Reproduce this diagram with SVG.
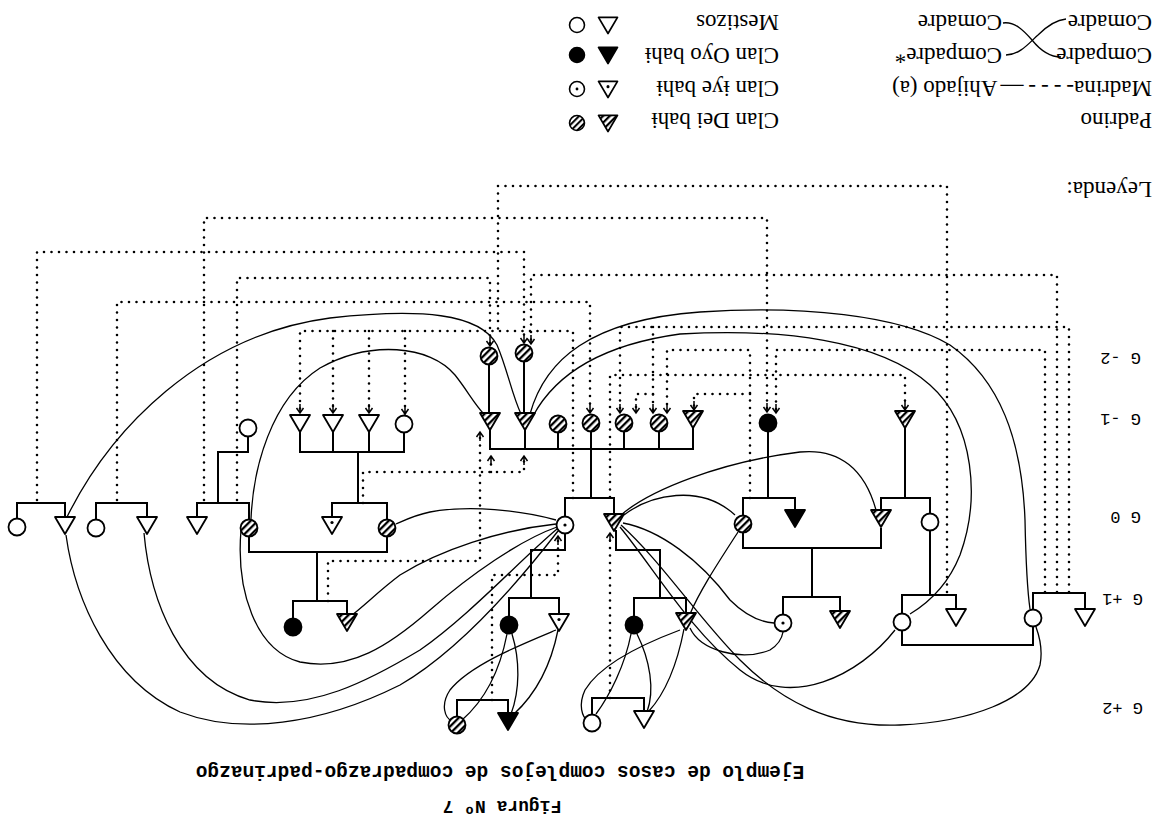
<svg xmlns="http://www.w3.org/2000/svg" xmlns:xlink="http://www.w3.org/1999/xlink" width="1161" height="823" viewBox="0 0 1161 823">
<style>
.g{fill:none;stroke:#000;stroke-width:2;stroke-linejoin:miter}
.cv{fill:none;stroke:#000;stroke-width:1.3}
.dt{fill:none;stroke:#000;stroke-width:2.6;stroke-dasharray:0 7.5;stroke-linecap:round}
.ar{marker-end:url(#arr)}
.lg{font-family:"Liberation Serif","DejaVu Serif",serif;font-size:23px;fill:#000}
.gl{font-family:"Liberation Mono","DejaVu Sans Mono",monospace;font-size:17px;fill:#000}
.tt{font-family:"Liberation Mono","DejaVu Sans Mono",monospace;font-size:19.5px;font-weight:bold;fill:#000}
.fg{font-family:"Liberation Mono","DejaVu Sans Mono",monospace;font-size:18px;font-weight:bold;fill:#000}
</style>
<defs>
<pattern id="hatch" patternUnits="userSpaceOnUse" width="5" height="5" patternTransform="rotate(45)">
<rect width="5" height="5" fill="#fff"/><rect width="2.3" height="5" fill="#000"/>
</pattern>
<marker id="arr" markerUnits="userSpaceOnUse" viewBox="-10 -5 12 10" markerWidth="12" markerHeight="10" refX="0" refY="0" orient="auto">
<path d="M-9 0H0M-5 -3.5L0 0L-5 3.5" fill="none" stroke="#000" stroke-width="1.5"/>
</marker>
<g id="co"><circle r="8.5" fill="#fff" stroke="#000" stroke-width="1.8"/></g>
<g id="cb"><circle r="8.5" fill="#000" stroke="#000" stroke-width="1.8"/></g>
<g id="cd"><circle r="8.5" fill="#fff" stroke="#000" stroke-width="1.8"/><circle r="1.6" fill="#000"/></g>
<g id="ch"><circle r="8.5" fill="url(#hatch)" stroke="#000" stroke-width="1.8"/></g>
<g id="to"><path d="M-10 -8H10L0 9Z" fill="#fff" stroke="#000" stroke-width="1.8" stroke-linejoin="round"/></g>
<g id="tb"><path d="M-10 -8H10L0 9Z" fill="#000" stroke="#000" stroke-width="1.8" stroke-linejoin="round"/></g>
<g id="td"><path d="M-10 -8H10L0 9Z" fill="#fff" stroke="#000" stroke-width="1.8" stroke-linejoin="round"/><circle cy="-2.5" r="1.6" fill="#000"/></g>
<g id="th"><path d="M-10 -8H10L0 9Z" fill="url(#hatch)" stroke="#000" stroke-width="1.8" stroke-linejoin="round"/></g>
</defs>
<rect width="1161" height="823" fill="#fff"/>

<g id="connectors">
<!-- dotted relations -->
<path class="dt" d="M947 592V186H498V331"/>
<path class="dt ar" d="M204 500V218H767V412"/>
<path class="dt ar" d="M37 500V252H524V343"/>
<path class="dt ar" d="M237 500V278H490V346"/>
<path class="dt ar" d="M117 500V302H590V413"/>
<path class="dt ar" d="M573 498V331H300V413"/>
<path class="dt ar" d="M333 331V413"/>
<path class="dt ar" d="M369 331V413"/>
<path class="dt ar" d="M405 331V414"/>
<path class="dt ar" d="M1057 592V275H531V344"/>
<path class="dt ar" d="M1069 592V327H620V413"/>
<path class="dt ar" d="M653 327V413"/>
<path class="dt ar" d="M1045 592V350H776V413"/>
<path class="dt ar" d="M610 497V375H905V410"/>
<path class="dt ar" d="M750 498V350H667V413"/>
<path class="dt ar" d="M750 394H694V410"/>
<path class="dt ar" d="M653 394H636V413"/>
<path class="dt ar" d="M363 503V472H524V456"/>
<path class="dt ar" d="M491 472V456"/>
<path class="dt ar" d="M328 601V561H480V432"/>
<path class="dt ar" d="M492 700V575H558V536"/>
<path class="dt ar" d="M610 698V533"/>
<!-- kinship lines -->
<path class="g" d="M17 518V503H65V516"/>
<path class="g" d="M96 519V503H147V516"/>
<path class="g" d="M197 516V503H249V519"/>
<path class="g" d="M332 516V503H387V519"/>
<path class="g" d="M565 516V498H614V514"/>
<path class="g" d="M743 515V498H795V510"/>
<path class="g" d="M881 510V498H930V513"/>
<path class="g" d="M293 618V601H347V614"/>
<path class="g" d="M509 616V598H559V614"/>
<path class="g" d="M634 616V598H686V613"/>
<path class="g" d="M783 614V597H840V611"/>
<path class="g" d="M902 613V595H956V609"/>
<path class="g" d="M1033 609V593H1085V609"/>
<path class="g" d="M457 716V700H508V713"/>
<path class="g" d="M592 714V698H644V711"/>
<path class="g" d="M249 537V552H387V537M317 552V601"/>
<path class="g" d="M565 534V550H531V598"/>
<path class="g" d="M616 530V550H660V598"/>
<path class="g" d="M743 533V548H881V528M812 548V597"/>
<path class="g" d="M930 531V595"/>
<path class="g" d="M902 631V645H1033V627"/>
<path class="g" d="M218 503V452H248V437"/>
<path class="g" d="M300 432V452H404V433M333 432V452M369 432V452M358 452V503"/>
<path class="g" d="M490 430V449H693V428M525 430V449M558 433V449M591 432V498M624 432V449M659 432V449"/>
<path class="g" d="M768 432V498"/>
<path class="g" d="M905 428V498"/>
<path class="g" d="M489 365V413"/>
<path class="g" d="M524 362V413"/>
<!-- padrinazgo curves -->
<path class="cv" d="M67 517C110 430 200 335 330 318C420 308 480 313 497 345C507 368 512 395 521 414"/>
<path class="cv" d="M251 519C253 470 270 400 320 368C370 340 430 345 455 375C467 390 475 405 484 414"/>
<path class="cv" d="M530 414C545 360 590 320 700 312C800 305 900 315 950 345C1000 380 1022 440 1025 520C1026 570 1028 595 1030 609"/>
<path class="cv" d="M533 416C555 375 600 345 680 334C780 328 880 340 930 385C975 425 980 500 960 555C948 585 930 602 910 614"/>
<path class="cv" d="M556 520C520 510 470 505 430 512C415 515 405 520 396 524"/>
<path class="cv" d="M556 524C500 530 440 550 400 575C380 590 365 605 352 615"/>
<path class="cv" d="M241 530C236 590 255 650 300 662C350 672 390 645 430 610C470 575 520 540 557 527"/>
<path class="cv" d="M144 533C150 600 180 680 250 700C310 712 370 680 420 650C470 615 520 560 557 529"/>
<path class="cv" d="M66 535C75 600 110 680 180 712C240 735 320 725 400 685C460 650 520 580 558 531"/>
<path class="cv" d="M621 515C650 490 720 462 800 452C840 448 865 470 876 510"/>
<path class="cv" d="M624 515C650 495 700 483 735 515"/>
<path class="cv" d="M623 523C660 530 700 560 730 600C745 615 760 622 774 623"/>
<path class="cv" d="M621 525C660 560 700 620 740 660C780 700 830 728 900 725C970 722 1030 700 1040 665C1043 650 1040 638 1036 627"/>
<path class="cv" d="M620 527C655 570 690 630 740 670C790 710 860 675 895 630"/>
<path class="cv" d="M690 628C700 650 740 662 770 650C778 645 782 638 783 632"/>
<path class="cv" d="M738 532C720 560 700 590 690 614"/>
<path class="cv" d="M507 634C500 670 485 700 462 720"/>
<path class="cv" d="M512 634C520 660 520 690 511 714"/>
<path class="cv" d="M556 630C520 645 470 665 450 690C440 705 445 718 452 721"/>
<path class="cv" d="M558 630C552 660 540 690 514 714"/>
<path class="cv" d="M631 634C625 665 610 695 596 714"/>
<path class="cv" d="M637 634C650 660 655 690 647 712"/>
<path class="cv" d="M680 630C640 645 600 665 585 690C578 705 582 717 588 721"/>
<path class="cv" d="M684 629C678 660 668 690 649 711"/>
</g>

<!-- G 0 -->
<g id="n01"><use xlink:href="#co" href="#co" x="17" y="527"/></g>
<g id="n02"><use xlink:href="#to" href="#to" x="65" y="525"/></g>
<g id="n03"><use xlink:href="#co" href="#co" x="96" y="528"/></g>
<g id="n04"><use xlink:href="#to" href="#to" x="147" y="525"/></g>
<g id="n05"><use xlink:href="#to" href="#to" x="197" y="525"/></g>
<g id="n06"><use xlink:href="#ch" href="#ch" x="249" y="528"/></g>
<g id="n07"><use xlink:href="#td" href="#td" x="332" y="525"/></g>
<g id="n08"><use xlink:href="#ch" href="#ch" x="387" y="528"/></g>
<g id="n09"><use xlink:href="#cd" href="#cd" x="565" y="525"/></g>
<g id="n10"><use xlink:href="#th" href="#th" x="614" y="522"/></g>
<g id="n11"><use xlink:href="#ch" href="#ch" x="743" y="524"/></g>
<g id="n12"><use xlink:href="#tb" href="#tb" x="795" y="518"/></g>
<g id="n13"><use xlink:href="#th" href="#th" x="881" y="518"/></g>
<g id="n14"><use xlink:href="#co" href="#co" x="930" y="522"/></g>
<!-- G +1 -->
<g id="n15"><use xlink:href="#cb" href="#cb" x="293" y="627"/></g>
<g id="n16"><use xlink:href="#th" href="#th" x="347" y="622"/></g>
<g id="n17"><use xlink:href="#cb" href="#cb" x="509" y="625"/></g>
<g id="n18"><use xlink:href="#td" href="#td" x="559" y="622"/></g>
<g id="n19"><use xlink:href="#cb" href="#cb" x="634" y="625"/></g>
<g id="n20"><use xlink:href="#th" href="#th" x="686" y="621"/></g>
<g id="n21"><use xlink:href="#cd" href="#cd" x="783" y="623"/></g>
<g id="n22"><use xlink:href="#th" href="#th" x="840" y="619"/></g>
<g id="n23"><use xlink:href="#co" href="#co" x="902" y="622"/></g>
<g id="n24"><use xlink:href="#to" href="#to" x="956" y="617"/></g>
<g id="n25"><use xlink:href="#co" href="#co" x="1033" y="618"/></g>
<g id="n26"><use xlink:href="#to" href="#to" x="1085" y="617"/></g>
<!-- G +2 -->
<g id="n27"><use xlink:href="#ch" href="#ch" x="457" y="725"/></g>
<g id="n28"><use xlink:href="#tb" href="#tb" x="508" y="721"/></g>
<g id="n29"><use xlink:href="#co" href="#co" x="592" y="723"/></g>
<g id="n30"><use xlink:href="#to" href="#to" x="644" y="719"/></g>
<!-- G -1 -->
<g id="n31"><use xlink:href="#co" href="#co" x="248" y="428"/></g>
<g id="n32"><use xlink:href="#to" href="#to" x="300" y="423"/></g>
<g id="n33"><use xlink:href="#to" href="#to" x="333" y="423"/></g>
<g id="n34"><use xlink:href="#to" href="#to" x="369" y="423"/></g>
<g id="n35"><use xlink:href="#co" href="#co" x="404" y="424"/></g>
<g id="n36"><use xlink:href="#th" href="#th" x="490" y="421"/></g>
<g id="n37"><use xlink:href="#th" href="#th" x="525" y="421"/></g>
<g id="n38"><use xlink:href="#ch" href="#ch" x="558" y="424"/></g>
<g id="n39"><use xlink:href="#ch" href="#ch" x="591" y="423"/></g>
<g id="n40"><use xlink:href="#ch" href="#ch" x="624" y="423"/></g>
<g id="n41"><use xlink:href="#ch" href="#ch" x="659" y="423"/></g>
<g id="n42"><use xlink:href="#th" href="#th" x="693" y="419"/></g>
<g id="n43"><use xlink:href="#cb" href="#cb" x="768" y="423"/></g>
<g id="n44"><use xlink:href="#th" href="#th" x="905" y="419"/></g>
<!-- G -2 -->
<g id="n45"><use xlink:href="#ch" href="#ch" x="489" y="356"/></g>
<g id="n46"><use xlink:href="#ch" href="#ch" x="524" y="353"/></g>

<!-- generation labels -->
<g id="gen-labels" class="gl">
<text transform="translate(1141 357) rotate(180)" dominant-baseline="central">G  -2</text>
<text transform="translate(1141 418) rotate(180)" dominant-baseline="central">G  -1</text>
<text transform="translate(1141 516) rotate(180)" dominant-baseline="central">G  0</text>
<text transform="translate(1143 598) rotate(180)" dominant-baseline="central">G  +1</text>
<text transform="translate(1143 707) rotate(180)" dominant-baseline="central">G  +2</text>
</g>

<!-- legend -->
<g id="legend">
<g id="leg-mestizos"><use xlink:href="#co" href="#co" transform="translate(577 25) scale(0.88)"/><use xlink:href="#to" href="#to" transform="translate(608 25) scale(0.95)"/>
<text class="lg" transform="translate(779 22) rotate(180)" dominant-baseline="central">Mestizos</text></g>
<g id="leg-oyo"><use xlink:href="#cb" href="#cb" transform="translate(577 55) scale(0.88)"/><use xlink:href="#tb" href="#tb" transform="translate(608 55) scale(0.95)"/>
<text class="lg" transform="translate(779 55) rotate(180)" dominant-baseline="central">Clan Oyo bahɨ</text></g>
<g id="leg-iye"><use xlink:href="#cd" href="#cd" transform="translate(577 89) scale(0.88)"/><use xlink:href="#td" href="#td" transform="translate(608 89) scale(0.95)"/>
<text class="lg" transform="translate(779 88) rotate(180)" dominant-baseline="central">Clan ɨye bahɨ</text></g>
<g id="leg-dei"><use xlink:href="#ch" href="#ch" transform="translate(577 123) scale(0.88)"/><use xlink:href="#th" href="#th" transform="translate(608 123) scale(0.95)"/>
<text class="lg" transform="translate(779 120) rotate(180)" dominant-baseline="central">Clan Dei bahɨ</text></g>
<text class="lg" transform="translate(1152 22) rotate(180)" dominant-baseline="central">Comadre</text>
<text class="lg" transform="translate(1002 22) rotate(180)" dominant-baseline="central">Comadre</text>
<text class="lg" transform="translate(1152 55) rotate(180)" dominant-baseline="central">Compadre</text>
<text class="lg" transform="translate(1002 55) rotate(180)" dominant-baseline="central">Compadre*</text>
<path class="cv" d="M1003 23C1015 21 1025 32 1032 40C1040 50 1050 57 1061 57"/>
<path class="cv" d="M1006 55C1020 55 1030 42 1038 35C1046 27 1055 20 1066 19"/>
<text class="lg" transform="translate(1152 88) rotate(180)" dominant-baseline="central">Madrina<tspan letter-spacing="5">----</tspan><tspan letter-spacing="3">—</tspan>Ahijado (a)</text>
<text class="lg" transform="translate(1152 120) rotate(180)" dominant-baseline="central">Padrino</text>
<text class="lg" transform="translate(1152 189) rotate(180)" dominant-baseline="central">Leyenda:</text>
</g>

<!-- title -->
<g id="title">
<text class="tt" text-anchor="middle" dominant-baseline="central" transform="translate(500 771) rotate(180)">Ejemplo de casos complejos de compadrazgo-padrinazgo</text>
<text class="fg" text-anchor="middle" dominant-baseline="central" transform="translate(502 806) rotate(180)">Figura Nº 7</text>
</g>
</svg>
